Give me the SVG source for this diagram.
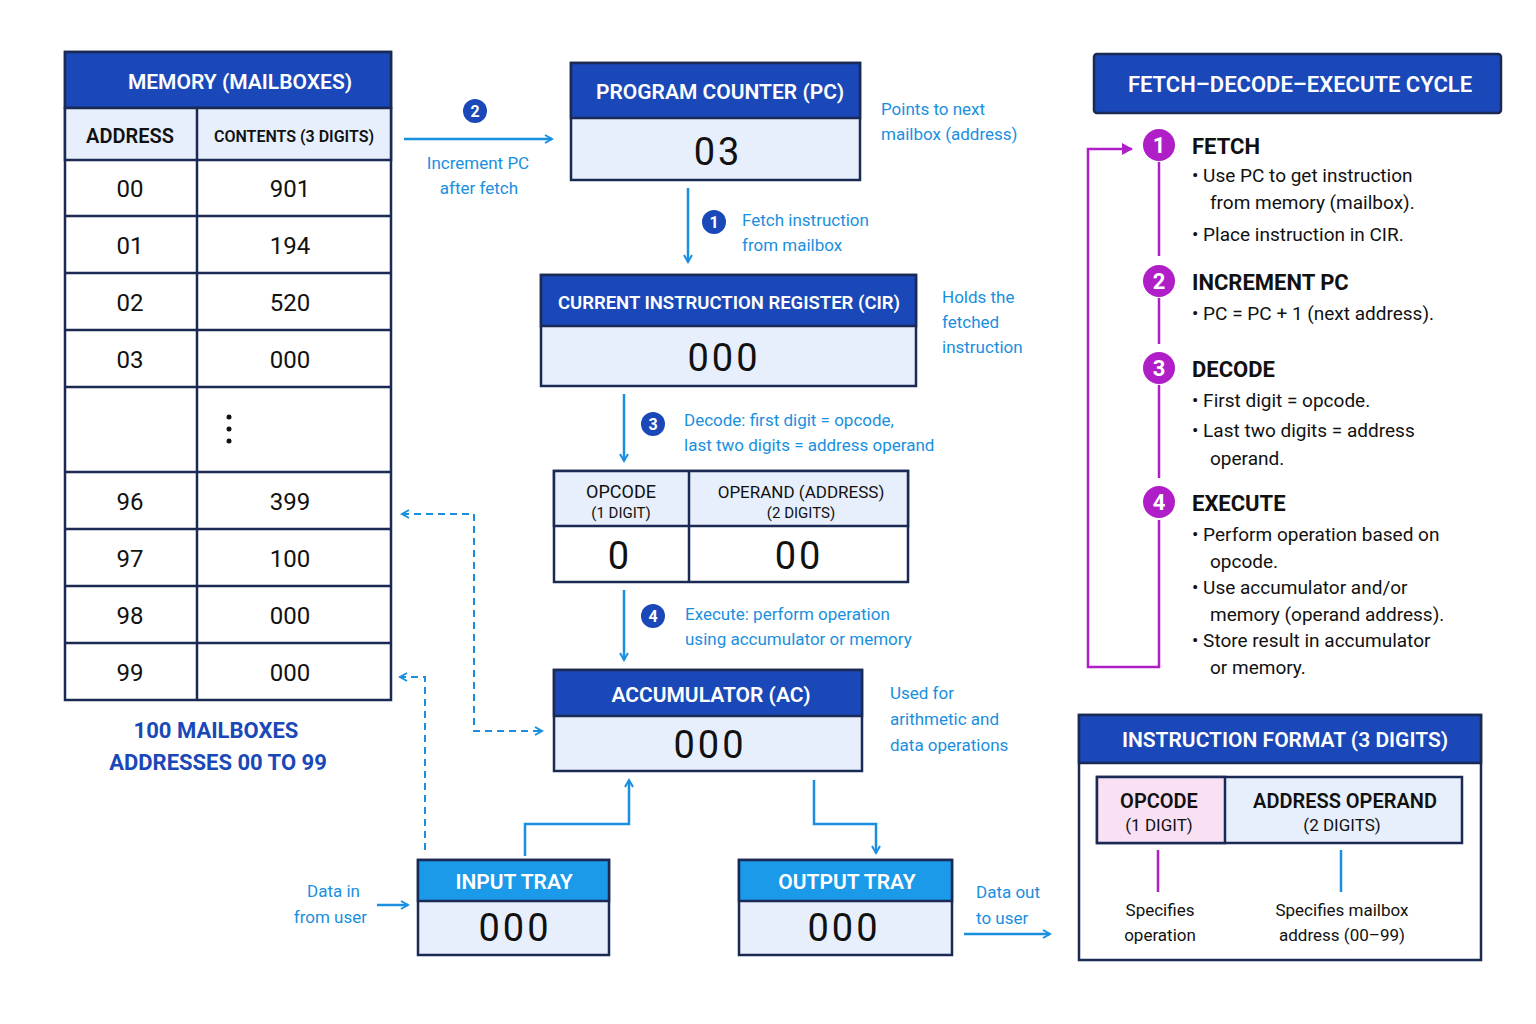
<svg xmlns="http://www.w3.org/2000/svg" width="1536" height="1024" viewBox="0 0 1536 1024">
<defs>
<style>
text{font-family:"Roboto","Liberation Sans",sans-serif}
.hdr{fill:#1a48b8;stroke:#1b2a55;stroke-width:2.5}
.box{fill:#e6effb;stroke:#1b2a55;stroke-width:2.5}
.wb{fill:#fff;stroke:#1b2a55;stroke-width:2.5}
.ht{fill:#fff;font-size:21px;font-weight:600;text-anchor:middle}
.big{fill:#111;font-size:38px;text-anchor:middle;letter-spacing:3px}
.cell{fill:#111;font-size:24px;text-anchor:middle}
.lbl{fill:#1a8fe0;font-size:17px}
.ln{stroke:#1a8fe0;stroke-width:2.5;fill:none}
.dash{stroke:#1a8fe0;stroke-width:2;fill:none;stroke-dasharray:7 5}
.nb{fill:#1a48b8}
.nt{fill:#fff;font-size:16px;font-weight:700;text-anchor:middle}
.pt{fill:#111;font-size:19px}
.ph{fill:#111;font-size:22px;font-weight:700}
.pc{fill:#b01ec8}
.pn{fill:#fff;font-size:22px;font-weight:700;text-anchor:middle}
</style>
<marker id="a" markerWidth="10" markerHeight="10" refX="8" refY="5" orient="auto-start-reverse" markerUnits="userSpaceOnUse"><path d="M1,1 L8,5 L1,9" fill="none" stroke="#1a8fe0" stroke-width="2"/></marker>
<marker id="ap" markerWidth="12" markerHeight="12" refX="10" refY="6" orient="auto" markerUnits="userSpaceOnUse"><path d="M0,0 L11,6 L0,12 z" fill="#b01ec8"/></marker>
</defs>
<rect width="1536" height="1024" fill="#fff"/>

<g id="memory">
<rect x="65" y="52" width="326" height="648" class="wb"/>
<rect x="65" y="52" width="326" height="56" class="hdr"/>
<text x="240" y="89" class="ht">MEMORY (MAILBOXES)</text>
<rect x="65" y="108" width="326" height="52" class="box"/>
<text x="130" y="143" font-size="20" font-weight="600" text-anchor="middle" fill="#111">ADDRESS</text>
<text x="294" y="142" style="font-size:16px" font-weight="600" text-anchor="middle" fill="#111">CONTENTS (3 DIGITS)</text>
<g stroke="#1b2a55" stroke-width="2.5">
<line x1="197" y1="108" x2="197" y2="700"/>
<line x1="65" y1="216" x2="391" y2="216"/><line x1="65" y1="273" x2="391" y2="273"/>
<line x1="65" y1="330" x2="391" y2="330"/><line x1="65" y1="387" x2="391" y2="387"/>
<line x1="65" y1="472" x2="391" y2="472"/><line x1="65" y1="529" x2="391" y2="529"/>
<line x1="65" y1="586" x2="391" y2="586"/><line x1="65" y1="643" x2="391" y2="643"/>
</g>
<text x="130" y="197" class="cell">00</text><text x="290" y="197" class="cell">901</text>
<text x="130" y="254" class="cell">01</text><text x="290" y="254" class="cell">194</text>
<text x="130" y="311" class="cell">02</text><text x="290" y="311" class="cell">520</text>
<text x="130" y="368" class="cell">03</text><text x="290" y="368" class="cell">000</text>
<circle cx="229" cy="417" r="2.5" fill="#111"/><circle cx="229" cy="429" r="2.5" fill="#111"/><circle cx="229" cy="441" r="2.5" fill="#111"/>
<text x="130" y="510" class="cell">96</text><text x="290" y="510" class="cell">399</text>
<text x="130" y="567" class="cell">97</text><text x="290" y="567" class="cell">100</text>
<text x="130" y="624" class="cell">98</text><text x="290" y="624" class="cell">000</text>
<text x="130" y="681" class="cell">99</text><text x="290" y="681" class="cell">000</text>
<text x="216" y="738" font-size="22" font-weight="700" fill="#1a48b8" text-anchor="middle">100 MAILBOXES</text>
<text x="218" y="770" font-size="22" font-weight="700" fill="#1a48b8" text-anchor="middle">ADDRESSES 00 TO 99</text>
</g>

<g id="pc">
<rect x="571" y="63" width="289" height="117" class="box"/>
<rect x="571" y="63" width="289" height="55" class="hdr"/>
<text x="720" y="99" class="ht">PROGRAM COUNTER (PC)</text>
<text x="718" y="165" class="big">03</text>
<text x="881" y="115" class="lbl">Points to next</text>
<text x="881" y="140" class="lbl">mailbox (address)</text>
</g>

<g id="cir">
<rect x="541" y="275" width="375" height="111" class="box"/>
<rect x="541" y="275" width="375" height="51" class="hdr"/>
<text x="729" y="309" class="ht" style="font-size:18.5px">CURRENT INSTRUCTION REGISTER (CIR)</text>
<text x="724" y="371" class="big">000</text>
<text x="942" y="303" class="lbl">Holds the</text>
<text x="942" y="328" class="lbl">fetched</text>
<text x="942" y="353" class="lbl">instruction</text>
</g>

<g id="decode">
<rect x="554" y="471" width="354" height="111" class="wb"/>
<rect x="554" y="471" width="354" height="55" class="box"/>
<line x1="689" y1="471" x2="689" y2="582" stroke="#1b2a55" stroke-width="2.5"/>
<text x="621" y="498" font-size="18" text-anchor="middle" fill="#111">OPCODE</text>
<text x="621" y="518" font-size="15" text-anchor="middle" fill="#111">(1 DIGIT)</text>
<text x="801" y="498" font-size="17" text-anchor="middle" fill="#111">OPERAND (ADDRESS)</text>
<text x="801" y="518" font-size="15" text-anchor="middle" fill="#111">(2 DIGITS)</text>
<text x="620" y="569" class="big">0</text>
<text x="799" y="569" class="big">00</text>
</g>

<g id="acc">
<rect x="554" y="670" width="308" height="101" class="box"/>
<rect x="554" y="670" width="308" height="46" class="hdr"/>
<text x="711" y="702" class="ht">ACCUMULATOR (AC)</text>
<text x="710" y="758" class="big">000</text>
<text x="890" y="699" class="lbl">Used for</text>
<text x="890" y="725" class="lbl">arithmetic and</text>
<text x="890" y="751" class="lbl">data operations</text>
</g>

<g id="input">
<rect x="418" y="860" width="191" height="95" class="box"/>
<rect x="418" y="860" width="191" height="41" fill="#1a9ae8" stroke="#1b2a55" stroke-width="2.5"/>
<text x="514" y="889" class="ht">INPUT TRAY</text>
<text x="515" y="941" class="big">000</text>
</g>
<g id="output">
<rect x="739" y="860" width="213" height="95" class="box"/>
<rect x="739" y="860" width="213" height="41" fill="#1a9ae8" stroke="#1b2a55" stroke-width="2.5"/>
<text x="847" y="889" class="ht">OUTPUT TRAY</text>
<text x="844" y="941" class="big">000</text>
</g>

<g id="connectors">
<line x1="404" y1="139" x2="552" y2="139" class="ln" marker-end="url(#a)"/>
<circle cx="475" cy="111" r="12" class="nb"/><text x="475" y="117" class="nt">2</text>
<text x="478" y="169" class="lbl" text-anchor="middle">Increment PC</text>
<text x="479" y="194" class="lbl" text-anchor="middle">after fetch</text>
<line x1="688" y1="188" x2="688" y2="262" class="ln" marker-end="url(#a)"/>
<circle cx="714" cy="222" r="12" class="nb"/><text x="714" y="228" class="nt">1</text>
<text x="742" y="226" class="lbl">Fetch instruction</text>
<text x="742" y="251" class="lbl">from mailbox</text>
<line x1="624" y1="394" x2="624" y2="461" class="ln" marker-end="url(#a)"/>
<circle cx="653" cy="424" r="12" class="nb"/><text x="653" y="430" class="nt">3</text>
<text x="684" y="426" class="lbl">Decode:  first digit = opcode,</text>
<text x="684" y="451" class="lbl">last two digits = address operand</text>
<line x1="624" y1="590" x2="624" y2="660" class="ln" marker-end="url(#a)"/>
<circle cx="653" cy="616" r="12" class="nb"/><text x="653" y="622" class="nt">4</text>
<text x="685" y="620" class="lbl">Execute:  perform operation</text>
<text x="685" y="645" class="lbl">using accumulator or memory</text>
<path d="M402,514 H474 V731 H542" class="dash" marker-start="url(#a)" marker-end="url(#a)"/>
<path d="M425,850 V677 H400" class="dash" marker-end="url(#a)"/>
<path d="M525,856 V824 H629 V780" class="ln" marker-end="url(#a)"/>
<path d="M814,780 V824 H876 V853" class="ln" marker-end="url(#a)"/>
<line x1="377" y1="905" x2="408" y2="905" class="ln" marker-end="url(#a)"/>
<text x="360" y="897" class="lbl" text-anchor="end">Data in</text>
<text x="367" y="923" class="lbl" text-anchor="end">from user</text>
<line x1="964" y1="934" x2="1050" y2="934" class="ln" marker-end="url(#a)"/>
<text x="976" y="898" class="lbl">Data out</text>
<text x="976" y="924" class="lbl">to user</text>
</g>

<g id="fde">
<rect x="1094" y="54" width="407" height="59" rx="3" class="hdr"/>
<text x="1300" y="92" class="ht" style="font-size:22px">FETCH–DECODE–EXECUTE CYCLE</text>
<path d="M1159,162 V256 M1159,298 V344 M1159,385 V478 M1159,520 V667 H1088 V149 H1132" stroke="#b01ec8" stroke-width="2.5" fill="none" marker-end="url(#ap)"/>
<circle cx="1159" cy="145" r="16" class="pc"/><text x="1159" y="153" class="pn">1</text>
<circle cx="1159" cy="281" r="16" class="pc"/><text x="1159" y="289" class="pn">2</text>
<circle cx="1159" cy="368" r="16" class="pc"/><text x="1159" y="376" class="pn">3</text>
<circle cx="1159" cy="502" r="16" class="pc"/><text x="1159" y="510" class="pn">4</text>
<text x="1192" y="154" class="ph">FETCH</text>
<text x="1192" y="182" class="pt">•  Use PC to get instruction</text>
<text x="1210" y="209" class="pt">from memory (mailbox).</text>
<text x="1192" y="241" class="pt">•  Place instruction in CIR.</text>
<text x="1192" y="290" class="ph">INCREMENT PC</text>
<text x="1192" y="320" class="pt">•  PC = PC + 1 (next address).</text>
<text x="1192" y="377" class="ph">DECODE</text>
<text x="1192" y="407" class="pt">•  First digit = opcode.</text>
<text x="1192" y="437" class="pt">•  Last two digits = address</text>
<text x="1210" y="465" class="pt">operand.</text>
<text x="1192" y="511" class="ph">EXECUTE</text>
<text x="1192" y="541" class="pt">•  Perform operation based on</text>
<text x="1210" y="568" class="pt">opcode.</text>
<text x="1192" y="594" class="pt">•  Use accumulator and/or</text>
<text x="1210" y="621" class="pt">memory (operand address).</text>
<text x="1192" y="647" class="pt">•  Store result in accumulator</text>
<text x="1210" y="674" class="pt">or memory.</text>
</g>

<g id="format">
<rect x="1079" y="715" width="402" height="245" class="wb"/>
<rect x="1079" y="715" width="402" height="48" class="hdr"/>
<text x="1285" y="747" class="ht">INSTRUCTION FORMAT (3 DIGITS)</text>
<rect x="1097" y="777" width="365" height="66" class="box"/>
<rect x="1097" y="777" width="128" height="66" fill="#f9e0f3" stroke="#1b2a55" stroke-width="2.5"/>
<text x="1159" y="808" font-size="20" font-weight="600" text-anchor="middle" fill="#111">OPCODE</text>
<text x="1159" y="831" font-size="17" text-anchor="middle" fill="#111">(1 DIGIT)</text>
<text x="1345" y="808" font-size="20" font-weight="600" text-anchor="middle" fill="#111">ADDRESS OPERAND</text>
<text x="1342" y="831" font-size="17" text-anchor="middle" fill="#111">(2 DIGITS)</text>
<line x1="1158" y1="850" x2="1158" y2="892" stroke="#b01ec8" stroke-width="2.5"/>
<line x1="1341" y1="850" x2="1341" y2="892" stroke="#1a8fe0" stroke-width="2.5"/>
<text x="1160" y="916" font-size="17" text-anchor="middle" fill="#111">Specifies</text>
<text x="1160" y="941" font-size="17" text-anchor="middle" fill="#111">operation</text>
<text x="1342" y="916" font-size="17" text-anchor="middle" fill="#111">Specifies mailbox</text>
<text x="1342" y="941" font-size="17" text-anchor="middle" fill="#111">address (00–99)</text>
</g>
</svg>
